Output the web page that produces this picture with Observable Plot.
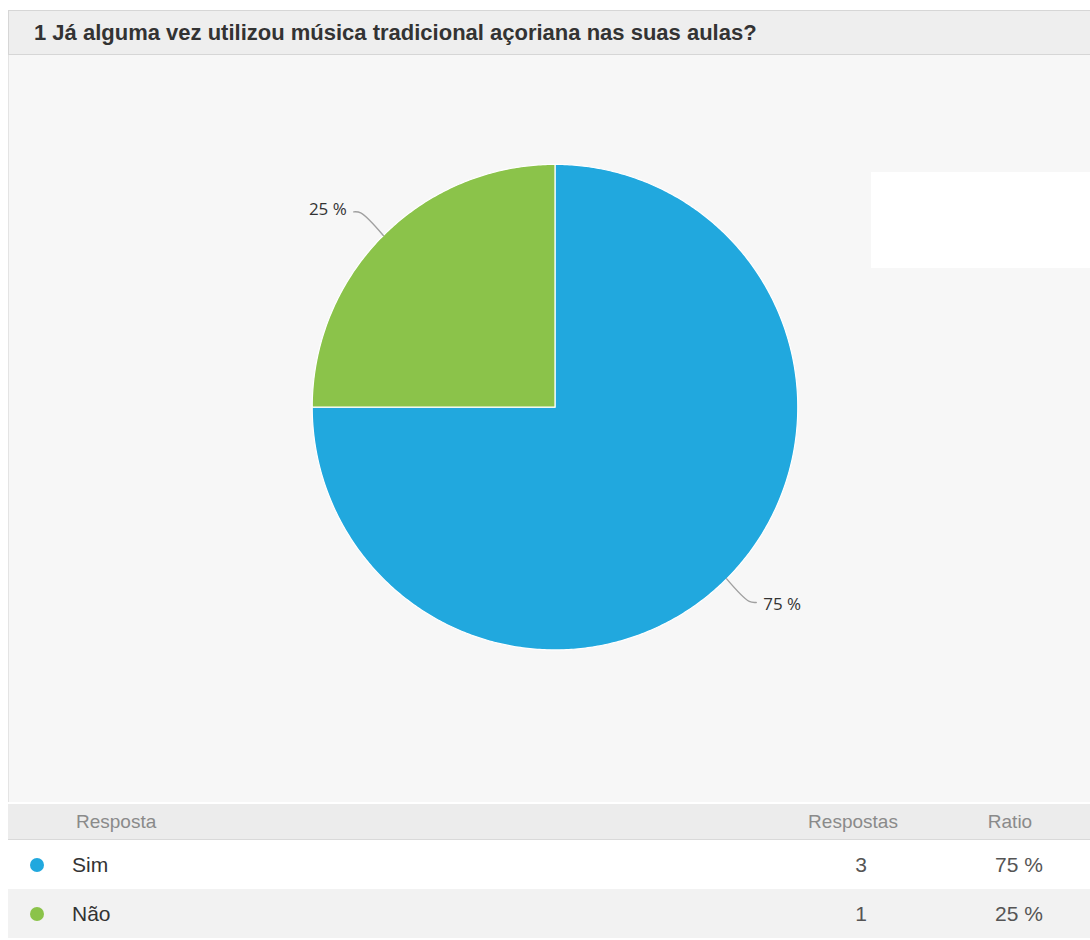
<!DOCTYPE html>
<html><head><meta charset="utf-8">
<script src="https://cdn.jsdelivr.net/npm/d3@7"></script>
<script src="https://cdn.jsdelivr.net/npm/@observablehq/plot@0.6"></script>
<style>
body{margin:0;background:#fff;font-family:"Liberation Sans",Arial,sans-serif;}
#card{position:absolute;left:8px;top:10px;width:1082px;}
#head{position:relative;height:45px;background:#eeeeee;border:1px solid #d6d6d6;border-right:none;box-sizing:border-box;}
#title{position:absolute;left:25px;top:0;line-height:44px;font-weight:bold;font-size:22px;color:#333;white-space:nowrap;}
#chart{position:relative;height:747px;background:#f7f7f7;border-left:1px solid #e4e4e4;box-sizing:border-box;}
#chart svg{position:absolute;left:-1px;top:0;}
#blank{position:absolute;left:862px;top:117px;width:220px;height:96px;background:#fff;}
#tbl{position:relative;}
.row{position:relative;box-sizing:border-box;}
.hdr{height:36px;background:#ececec;border-bottom:1px solid #d9d9d9;color:#8a8a8a;font-size:19px;}
.cell{position:absolute;top:0;white-space:nowrap;}
.dot{position:absolute;width:14px;height:14px;border-radius:50%;}
</style></head>
<body>
<div id="card">
  <div id="head"><div id="title"></div></div>
  <div id="chart"><div id="blank"></div></div>
  <div id="tbl"></div>
</div>
<script>
const title = "1 Já alguma vez utilizou música tradicional açoriana nas suas aulas?";
const answers = ["Sim", "Não"];
const counts = [3, 1];
const ratios = ["75 %", "25 %"];
const colors = ["#21a8de", "#8bc34a"];
const headers = ["Resposta", "Respostas", "Ratio"];

document.getElementById("title").textContent = title;

const R = 243;
const arcs = d3.pie().sort(null)(counts);

// slice outlines from the pie angles
const sliceRows = [];
arcs.forEach((a, i) => {
  sliceRows.push({answer: answers[i], x: 0, y: 0});
  const n = Math.max(2, Math.ceil((a.endAngle - a.startAngle) / 0.01));
  for (let k = 0; k <= n; ++k) {
    const t = a.startAngle + (a.endAngle - a.startAngle) * k / n;
    sliceRows.push({answer: answers[i], x: R * Math.sin(t), y: R * Math.cos(t)});
  }
});

// connectors + labels
const connRows = [], labelRows = [];
arcs.forEach((a, i) => {
  const m = (a.startAngle + a.endAngle) / 2;
  const s = Math.sin(m), c = Math.cos(m), side = s >= 0 ? 1 : -1;
  const bx = (R + 32) * s, by = (R + 32) * c;
  connRows.push({answer: answers[i], x: R * s, y: R * c});
  connRows.push({answer: answers[i], x: bx, y: by});
  connRows.push({answer: answers[i], x: bx + side * 7, y: by - side * 1});
  labelRows.push({text: ratios[i], x: bx + side * 14, y: by - side * 3, anchor: side > 0 ? "start" : "end"});
});

const plot = Plot.plot({
  width: 1082, height: 747,
  margin: 0,
  x: {domain: [-547, 535], axis: null},
  y: {domain: [-395, 352], axis: null},
  color: {domain: answers, range: colors},
  style: {background: "transparent", overflow: "visible"},
  marks: [
    Plot.line(sliceRows, {x: "x", y: "y", z: "answer", fill: "answer", stroke: "#ffffff", strokeWidth: 1.2, curve: "linear-closed"}),
    Plot.line(connRows, {x: "x", y: "y", z: "answer", stroke: "#a0a0a0", strokeWidth: 1.4, curve: "catmull-rom"}),
    Plot.text(labelRows.filter(d => d.anchor === "start"), {x: "x", y: "y", text: "text", textAnchor: "start", fontSize: 17, fontFamily: "Open Sans", fill: "#333"}),
    Plot.text(labelRows.filter(d => d.anchor === "end"), {x: "x", y: "y", text: "text", textAnchor: "end", fontSize: 17, fontFamily: "Open Sans", fill: "#333"})
  ]
});
document.getElementById("chart").appendChild(plot);

// table
const tbl = d3.select("#tbl");
const hdr = tbl.append("div").attr("class", "row hdr").style("margin-top", "2px");
hdr.append("div").attr("class", "cell").style("left", "68px").style("line-height", "36px").text(headers[0]);
hdr.append("div").attr("class", "cell").style("left", "760px").style("width", "170px").style("text-align", "center").style("line-height", "36px").text(headers[1]);
hdr.append("div").attr("class", "cell").style("left", "952px").style("width", "100px").style("text-align", "center").style("line-height", "36px").text(headers[2]);
answers.forEach((a, i) => {
  const row = tbl.append("div").attr("class", "row")
    .style("height", "49px").style("background", i % 2 ? "#f2f2f2" : "#ffffff")
    .style("font-size", "21px").style("color", "#333");
  row.append("div").attr("class", "dot").style("left", "22px").style("top", "18px").style("background", colors[i]);
  row.append("div").attr("class", "cell").style("left", "64px").style("line-height", "49px").text(a);
  row.append("div").attr("class", "cell").style("left", "803px").style("width", "100px").style("text-align", "center").style("line-height", "49px").style("color", "#555").text(counts[i]);
  row.append("div").attr("class", "cell").style("left", "961px").style("width", "100px").style("text-align", "center").style("line-height", "49px").style("color", "#555").text(ratios[i]);
});
</script>
</body></html>
